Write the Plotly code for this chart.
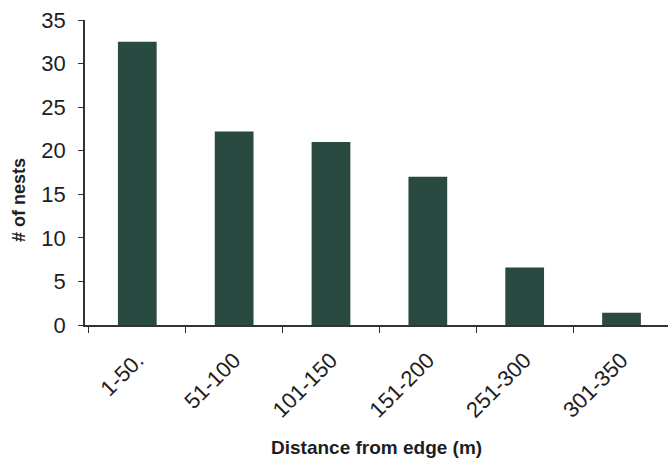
import plotly.graph_objects as go

categories = ["1-50.", "51-100", "101-150", "151-200", "251-300", "301-350"]
nests = [32.5, 22.2, 21.0, 17.0, 6.6, 1.4]
y_ticks = [0, 5, 10, 15, 20, 25, 30, 35]

W, H = 668, 467
L, R, T, B = 85, 0, 20, 142
pw, ph = W - L - R, H - T - B

fig = go.Figure(go.Bar(x=categories, y=nests, marker=dict(color="#284a40", line=dict(width=0)), width=0.4))

fig.update_layout(
    width=W, height=H,
    margin=dict(l=L, r=R, t=T, b=B, pad=0),
    plot_bgcolor="white", paper_bgcolor="white",
    font=dict(family="Liberation Sans, Arial, sans-serif", color="#1e1e1e"),
    showlegend=False,
)
fig.update_xaxes(
    type="category", range=[-0.54, 5.48],
    showline=True, linecolor="#333333", linewidth=1.5,
    ticks="outside", tickson="boundaries", ticklen=6, tickcolor="#333333",
    tickangle=-45, tickfont=dict(size=22), ticklabelstandoff=12,
    showgrid=False, zeroline=False,
)
fig.update_yaxes(
    range=[0, 35], tickvals=y_ticks,
    showline=True, linecolor="#333333", linewidth=1.5,
    ticks="outside", ticklen=5, tickcolor="#333333",
    tickfont=dict(size=22), ticklabelstandoff=8,
    showgrid=False, zeroline=False,
)
fig.add_annotation(
    text="<b># of nests</b>", xref="paper", yref="paper",
    x=(19 - L) / pw, y=(325 - 200) / ph, textangle=-90,
    showarrow=False, xanchor="center", yanchor="middle",
    font=dict(size=18, color="#1e1e1e"),
)
fig.add_annotation(
    text="<b>Distance from edge (m)</b>", xref="paper", yref="paper",
    x=(376 - L) / pw, y=(325 - 447) / ph,
    showarrow=False, xanchor="center", yanchor="middle",
    font=dict(size=19, color="#1e1e1e"),
)
fig.write_html("out.html", config={"displayModeBar": False},
               post_script="document.body.style.margin='0px';")
